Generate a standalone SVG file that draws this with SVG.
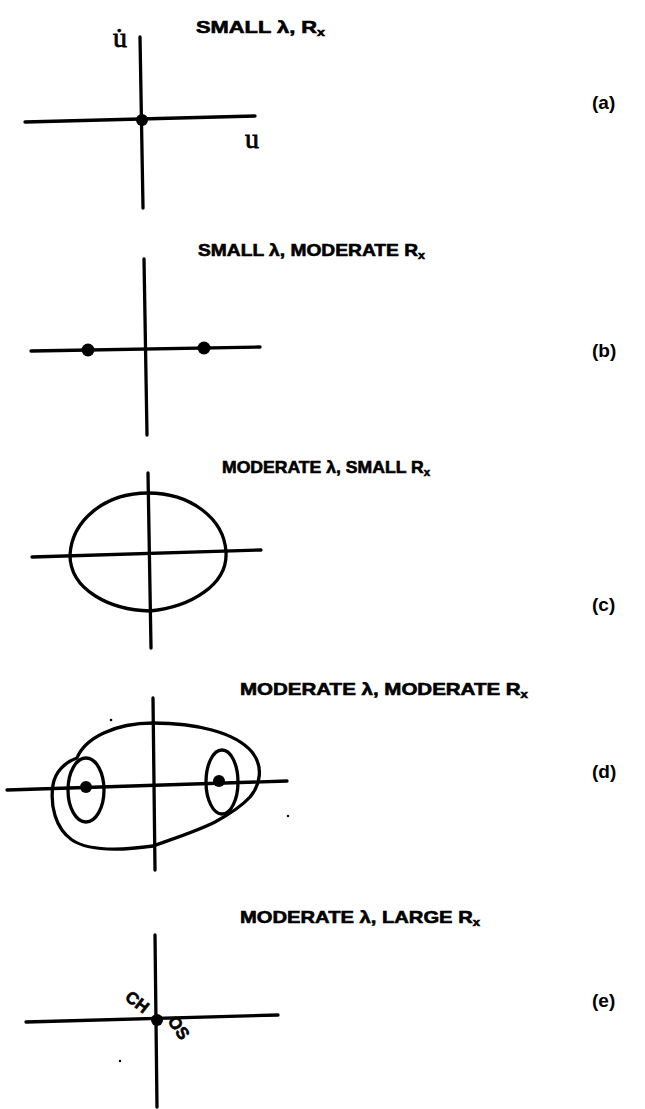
<svg xmlns="http://www.w3.org/2000/svg" width="645" height="1109" viewBox="0 0 645 1109">
<style>
.ax{stroke:#000;stroke-width:3.3;fill:none;stroke-linecap:round}
.cv{stroke:#000;stroke-width:3.3;fill:none;stroke-linejoin:round}
.lb{font-family:"Liberation Sans",Arial,sans-serif;font-weight:bold;font-size:17px;fill:#000;stroke:#000;stroke-width:0.6}
.sub{font-size:11px}
.pl{font-family:"Liberation Sans",Arial,sans-serif;font-weight:bold;font-size:19px;fill:#000}
.vr{font-family:"Liberation Serif","Times New Roman",serif;font-size:28px;fill:#000;stroke:#000;stroke-width:0.8}
</style>
<rect width="645" height="1109" fill="#fff"/>

<g id="panel-a">
<line class="ax" x1="140" y1="37" x2="143" y2="208"/>
<line class="ax" x1="25" y1="122" x2="255" y2="116"/>
<circle cx="142" cy="120" r="6"/>
<text class="vr" x="113" y="47">u̇</text>
<text class="vr" x="245" y="148">u</text>
<text class="lb" x="196" y="33" textLength="129" lengthAdjust="spacingAndGlyphs">SMALL λ, R<tspan class="sub" dy="3">x</tspan></text>
<text class="pl" x="592" y="109">(a)</text>
</g>

<g id="panel-b">
<line class="ax" x1="144" y1="259" x2="147" y2="435"/>
<line class="ax" x1="31" y1="351" x2="260" y2="347"/>
<circle cx="88" cy="350" r="6.5"/>
<circle cx="204" cy="348" r="6.5"/>
<text class="lb" x="198" y="256" textLength="227" lengthAdjust="spacingAndGlyphs">SMALL λ, MODERATE R<tspan class="sub" dy="3">x</tspan></text>
<text class="pl" x="592" y="357">(b)</text>
</g>

<g id="panel-c">
<line class="ax" x1="148" y1="473" x2="151" y2="648"/>
<line class="ax" x1="32" y1="557" x2="261" y2="550"/>
<path class="cv" d="M70,555 C72,520 105,493 148,493 C190,493 224,518 226,552 C228,585 190,607 150,611 C110,610 70,590 70,555 Z"/>
<text class="lb" x="222" y="473" textLength="208" lengthAdjust="spacingAndGlyphs">MODERATE λ, SMALL R<tspan class="sub" dy="3">x</tspan></text>
<text class="pl" x="592" y="611">(c)</text>
</g>

<g id="panel-d">
<line class="ax" x1="153" y1="698" x2="155" y2="870"/>
<line class="ax" x1="7" y1="790" x2="287" y2="781"/>
<ellipse class="cv" cx="86" cy="790" rx="18" ry="32"/>
<ellipse class="cv" cx="222" cy="782" rx="16" ry="32"/>
<circle cx="86" cy="787" r="6"/>
<circle cx="219" cy="781" r="6"/>
<path class="cv" d="M77,758 C85,738 115,723 153,723 C195,723 235,732 252,752 C264,767 260,785 250,797 C240,808 228,815 215,822 C195,832 175,838 153,846 C125,850 90,852 72,840 C55,828 50,805 53,785 C55,772 65,762 77,758 Z"/>
<circle cx="111" cy="720" r="1.3"/>
<circle cx="288" cy="816" r="1.2"/>
<text class="lb" x="240" y="695" textLength="288" lengthAdjust="spacingAndGlyphs">MODERATE λ, MODERATE R<tspan class="sub" dy="3">x</tspan></text>
<text class="pl" x="592" y="778">(d)</text>
</g>

<g id="panel-e">
<line class="ax" x1="155" y1="935" x2="157" y2="1107"/>
<line class="ax" x1="26" y1="1022" x2="278" y2="1015"/>
<circle cx="157" cy="1020" r="6"/>
<text class="lb" x="0" y="0" font-size="18" transform="translate(124,999) rotate(38)">CH</text>
<text class="lb" x="0" y="0" font-size="18" transform="translate(167,1021) rotate(55)">OS</text>
<circle cx="120" cy="1061" r="1.2"/>
<text class="lb" x="240" y="923" textLength="240" lengthAdjust="spacingAndGlyphs">MODERATE λ, LARGE R<tspan class="sub" dy="3">x</tspan></text>
<text class="pl" x="592" y="1007">(e)</text>
</g>
</svg>
